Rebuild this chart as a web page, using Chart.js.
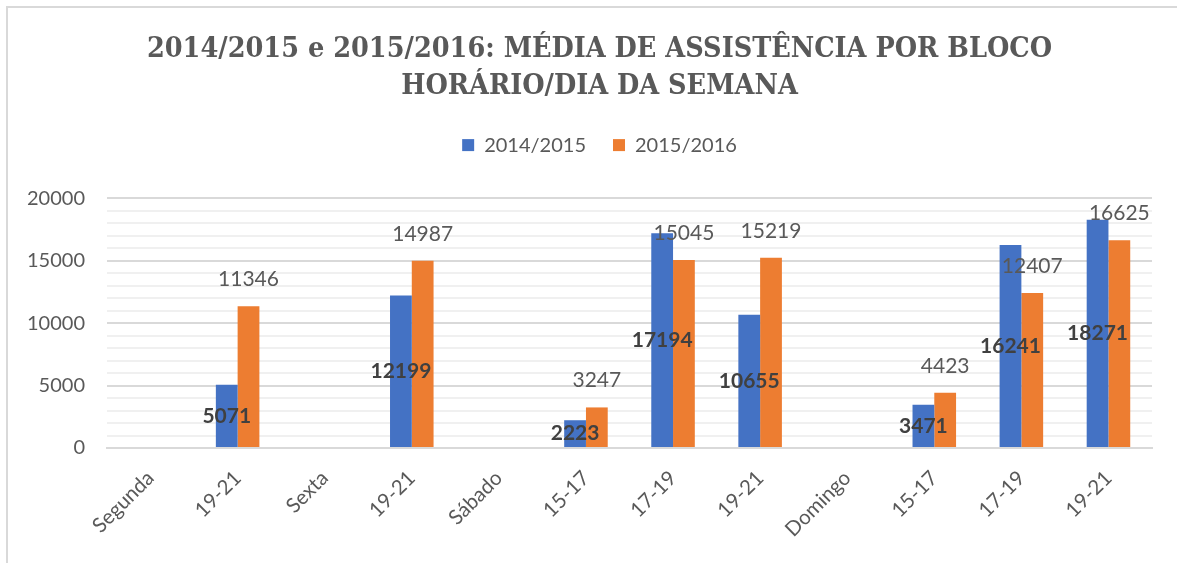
<!DOCTYPE html>
<html>
<head>
<meta charset="utf-8">
<title>Média de assistência por bloco horário</title>
<script src="https://cdn.jsdelivr.net/npm/chart.js@4/dist/chart.umd.min.js"></script>
<style>
  html, body { margin: 0; padding: 0; background: #fff; }
  #wrap { position: relative; width: 1177px; height: 563px; overflow: hidden; }
  #frame {
    position: absolute; left: 6px; top: 6px; right: -4px; bottom: -4px;
    border-top: 2px solid #d9d9d9; border-left: 2px solid #d9d9d9;
  }
  #chart { position: absolute; left: 0; top: 0; }
</style>
</head>
<body>
<div id="wrap">
  <div id="frame"></div>
  <canvas id="chart" width="1177" height="563"></canvas>
</div>
<script>
'use strict';

/* ── Data ─────────────────────────────────────────────────────────── */
const categories = ['Segunda', '19-21', 'Sexta', '19-21', 'Sábado', '15-17',
                    '17-19', '19-21', 'Domingo', '15-17', '17-19', '19-21'];
const season1415 = [null, 5071, null, 12199, null, 2223, 17194, 10655, null, 3471, 16241, 18271];
const season1516 = [null, 11346, null, 14987, null, 3247, 15045, 15219, null, 4423, 12407, 16625];
const seriesNames = ['2014/2015', '2015/2016'];
const titleLines = ['2014/2015 e 2015/2016: MÉDIA DE ASSISTÊNCIA POR BLOCO',
                    'HORÁRIO/DIA DA SEMANA'];

/* ── Design tokens ────────────────────────────────────────────────── */
const C = {
  blue:     '#4472c4',
  orange:   '#ed7d31',
  text:     '#595959',
  dark:     '#404040',
  major:    '#d9d9d9',
  minor:    '#f0f0f0',
};
const FONT = 'Lato, "Open Sans", sans-serif';

Chart.defaults.color = C.text;
Chart.defaults.font.family = FONT;

/* ── Data labels: centred bold for first series, above bar for second ── */
const barLabels = {
  id: 'barLabels',
  afterDatasetsDraw(chart) {
    const ctx = chart.ctx;
    ctx.save();
    ctx.textAlign = 'center';
    ctx.textBaseline = 'middle';
    chart.data.datasets.forEach((ds, di) => {
      const meta = chart.getDatasetMeta(di);
      meta.data.forEach((bar, i) => {
        const v = ds.data[i];
        if (v == null) return;
        if (di === 0) {
          ctx.font = `bold 21px ${FONT}`;
          ctx.fillStyle = C.dark;
          ctx.fillText(String(v), bar.x, (bar.y + bar.base) / 2);
        } else {
          ctx.font = `21px ${FONT}`;
          ctx.fillStyle = C.text;
          ctx.fillText(String(v), bar.x, bar.y - 27);
        }
      });
    });
    ctx.restore();
  },
};

// Empty axis that only reserves room (keeps title/legend centred like the original)
const spacer = (position, size) => ({
  type: 'linear',
  position,
  grid: { display: false, drawTicks: false },
  border: { display: false },
  ticks: { display: false },
  afterFit: s => {
    if (s.isHorizontal()) s.height = size; else s.width = size;
  },
});

new Chart(document.getElementById('chart'), {
  type: 'bar',
  data: {
    labels: categories,
    datasets: [
      { label: seriesNames[0], data: season1415, backgroundColor: C.blue,   xAxisID: 'x', yAxisID: 'y' },
      { label: seriesNames[1], data: season1516, backgroundColor: C.orange, xAxisID: 'x', yAxisID: 'y' },
    ],
  },
  options: {
    responsive: false,
    animation: false,
    layout: { padding: { left: 22, right: 0, top: 0, bottom: 0 } },
    datasets: { bar: { categoryPercentage: 0.5, barPercentage: 1.0 } },
    plugins: {
      tooltip: { enabled: false },
      title: {
        display: true,
        text: titleLines,
        color: C.text,
        font: { family: '"DejaVu Serif Condensed", "DejaVu Serif", serif', size: 28.5, weight: 'bold', lineHeight: 1.3 },
        padding: { top: 31, bottom: 3 },
      },
      legend: {
        display: true,
        position: 'top',
        labels: {
          boxWidth: 12,
          boxHeight: 12,
          padding: 27,
          color: C.text,
          font: { size: 20 },
        },
      },
    },
    scales: {
      x: {
        grid: { display: false, drawTicks: false },
        border: { color: C.major, width: 2 },
        ticks: {
          maxRotation: 45,
          minRotation: 45,
          autoSkip: false,
          padding: 18,
          font: { size: 20.5 },
          color: C.text,
        },
        afterFit: s => { s.height = 115; },
      },
      y: {
        min: 0,
        max: 20000,
        grid: {
          drawTicks: false,
          color: c => (c.tick.value % 5000 === 0 ? C.major : C.minor),
          lineWidth: 2,
        },
        border: { display: false },
        ticks: {
          stepSize: 1000,
          autoSkip: false,
          padding: 22,
          font: { size: 20 },
          color: C.text,
          callback: v => (v % 5000 === 0 ? v : ''),
        },
        afterFit: s => { s.width = 85; },
      },
      gapTop:   spacer('top', 33),
      gapRight: spacer('right', 25),
    },
  },
  plugins: [barLabels],
});
</script>
</body>
</html>
